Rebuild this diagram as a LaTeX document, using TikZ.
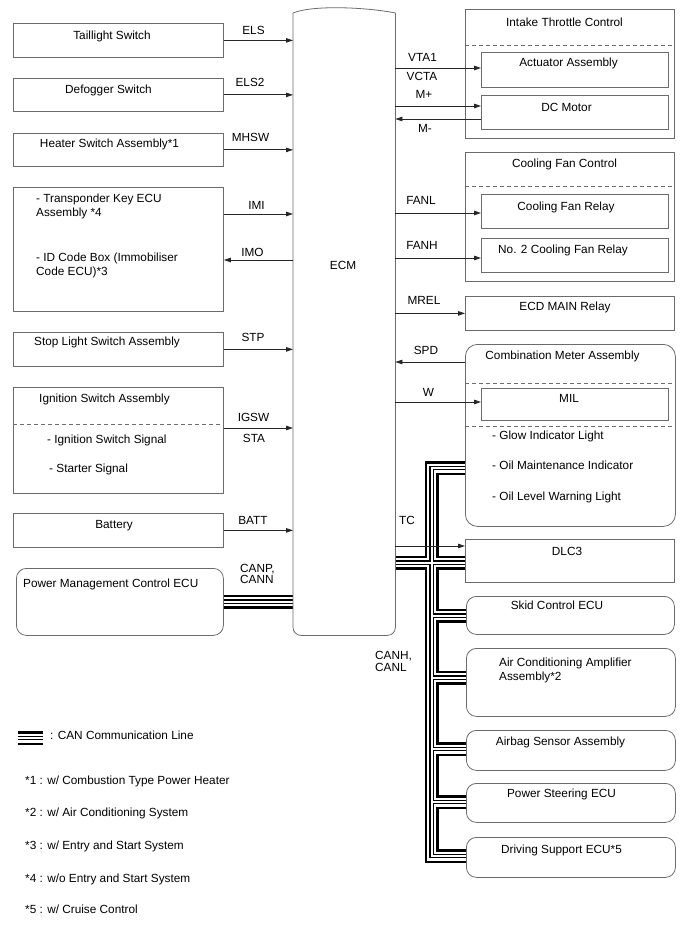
\documentclass[tikz,border=0pt]{standalone}
\usepackage{fontspec}
\setmainfont{Liberation Sans}
\usetikzlibrary{arrows.meta,backgrounds}
\definecolor{boxgray}{gray}{0.42}
\tikzset{
  box/.style={draw=boxgray,line width=0.8pt,anchor=north west,inner sep=0pt},
  rbox/.style={box,rounded corners=10pt},
  lbl/.style={inner sep=0pt,text height=8.45pt,text depth=0pt},
  mlbl/.style={inner sep=0pt,anchor=north west,align=left},
  sig/.style={draw=black!85,line width=0.8pt,-{Triangle[length=7pt,width=4.5pt]}},
  sepline/.style={draw=boxgray,line width=0.8pt,dash pattern=on 4pt off 3pt},
  canbus/.style={draw=white,line width=2pt,
    preaction={draw=black,line width=14pt},
    preaction={draw=white,line width=9pt},
    preaction={draw=black,line width=4.5pt}}
}
\begin{document}
\begin{tikzpicture}[x=1pt,y=-1pt,font=\fontsize{11.8}{13.5}\selectfont]
\useasboundingbox(0,0)rectangle(688,949);
%ECM
\node[anchor=north west,inner sep=0pt,minimum width=102,minimum height=622](ecm)at(293,13){};
\draw[draw=boxgray,line width=0.8pt,rounded corners=8pt](ecm.north west)--(ecm.south west)--(ecm.south east)--(ecm.north east);
\draw[draw=boxgray,line width=0.8pt](ecm.north west)..controls(312,5)and(365,7)..(ecm.north east);
\node[lbl](ecmtxt)at(343,265){ECM};
%taillight switch
\node[box,minimum width=210,minimum height=34](tail)at(13,23){};
\node[lbl](tailtxt)at(112,35){Taillight Switch};
\draw[sig](tail.east)--(ecm.west|-tail.east);
\node[lbl](els)at(253.5,30){ELS};
%defogger switch
\node[box,minimum width=210,minimum height=33](defog)at(13,78){};
\node[lbl](defogtxt)at(108.5,89){Defogger Switch};
\draw[sig](defog.east)--(ecm.west|-defog.east);
\node[lbl](els2)at(250,82){ELS2};
%heater switch
\node[box,minimum width=210,minimum height=33](heater)at(13,133){};
\node[lbl](heatertxt)at(109.5,143){Heater Switch Assembly*1};
\draw[sig](heater.east)--(ecm.west|-heater.east);
\node[lbl](mhsw)at(250.5,137){MHSW};
%transponder / id code box
\node[box,minimum width=210,minimum height=124](trans)at(13,187){};
\node[mlbl](transtxt)at(36,194){- Transponder Key ECU\\Assembly *4};
\node[mlbl](idtxt)at(36,252.8){- ID Code Box (Immobiliser\\Code ECU)*3};
\draw[sig](trans.east|-0,214)--(ecm.west|-0,214);
\draw[sig](ecm.west|-0,260)--(trans.east|-0,260);
\node[lbl](imi)at(256.5,205){IMI};
\node[lbl](imo)at(252.5,252){IMO};
%stop light switch
\node[box,minimum width=210,minimum height=34](stop)at(13,332){};
\node[lbl](stoptxt)at(107,341){Stop Light Switch Assembly};
\draw[sig](stop.east)--(ecm.west|-stop.east);
\node[lbl](stp)at(253,337){STP};
%ignition switch
\node[box,minimum width=210,minimum height=106](ign)at(13,387){};
\node[lbl](igntxt)at(104.5,398){Ignition Switch Assembly};
\draw[sepline](ign.west|-0,424)--(ign.east|-0,424);
\node[lbl,anchor=west](igsig)at(47,439){- Ignition Switch Signal};
\node[lbl,anchor=west](stsig)at(49,468){- Starter Signal};
\draw[sig](ign.east|-0,428)--(ecm.west|-0,428);
\node[lbl](igsw)at(253.5,417){IGSW};
\node[lbl](sta)at(254,438){STA};
%battery
\node[box,minimum width=210,minimum height=34](batt)at(13,513){};
\node[lbl](batttxt)at(114,524){Battery};
\draw[sig](batt.east)--(ecm.west|-batt.east);
\node[lbl](battsig)at(253,520){BATT};
%power management
\node[rbox,minimum width=207,minimum height=67](pwr)at(16,568){};
\node[lbl,anchor=west](pwrtxt)at(23,583){Power Management Control ECU};
\node[mlbl,font=\fontsize{11.8}{11}\selectfont](canp)at(240,564){CANP,\\CANN};
%intake throttle control
\node[box,minimum width=209,minimum height=129](itc)at(465,9){};
\node[lbl](itctxt)at(564.5,22){Intake Throttle Control};
\draw[sepline](itc.west|-0,45)--(itc.east|-0,45);
\node[box,minimum width=187,minimum height=35](act)at(481,52){};
\node[lbl](acttxt)at(568.5,62){Actuator Assembly};
\node[box,minimum width=187,minimum height=34](dcm)at(481,95){};
\node[lbl](dcmtxt)at(566.5,107){DC Motor};
\draw[sig](ecm.east|-0,68)--(act.west|-0,68);
\draw[sig](ecm.east|-0,106)--(dcm.west|-0,106);
\draw[sig](dcm.west|-0,119)--(ecm.east|-0,119);
\node[lbl](vta)at(422.5,57){VTA1};
\node[lbl](vcta)at(422,76){VCTA};
\node[lbl](mp)at(424,94){M+};
\node[lbl](mm)at(425,128){M-};
%cooling fan control
\node[box,minimum width=209,minimum height=129](cfc)at(465,152){};
\node[lbl](cfctxt)at(564.5,163){Cooling Fan Control};
\draw[sepline](cfc.west|-0,186)--(cfc.east|-0,186);
\node[box,minimum width=187,minimum height=34](cfr)at(481,194){};
\node[lbl](cfrtxt)at(566,206){Cooling Fan Relay};
\node[box,minimum width=187,minimum height=34](cfrb)at(481,238){};
\node[lbl](cfrbtxt)at(563,249){No. 2 Cooling Fan Relay};
\draw[sig](ecm.east|-0,213)--(cfr.west|-0,213);
\draw[sig](ecm.east|-0,258)--(cfrb.west|-0,258);
\node[lbl](fanl)at(421,200){FANL};
\node[lbl](fanh)at(422,245){FANH};
%ecd main relay
\node[box,minimum width=209,minimum height=34](ecd)at(465,296){};
\node[lbl](ecdtxt)at(565,306){ECD MAIN Relay};
\draw[sig](ecm.east|-ecd.west)--(ecd.west);
\node[lbl](mrel)at(424,300){MREL};
%combination meter
\node[box,rounded corners=12pt,minimum width=210,minimum height=182](meter)at(465,344){};
\node[lbl](metertxt)at(562.5,355){Combination Meter Assembly};
\draw[sepline](meter.west|-0,383)--(meter.east|-0,383);
\draw[sepline](meter.west|-0,426)--(meter.east|-0,426);
\node[box,minimum width=187,minimum height=32](mil)at(481,388){};
\node[lbl](miltxt)at(569,398){MIL};
\node[lbl,anchor=west](glow)at(492,435){- Glow Indicator Light};
\node[lbl,anchor=west](oilm)at(492,465){- Oil Maintenance Indicator};
\node[lbl,anchor=west](oill)at(492,496){- Oil Level Warning Light};
\draw[sig](meter.west|-0,362)--(ecm.east|-0,362);
\draw[sig](ecm.east|-0,402)--(mil.west|-0,402);
\node[lbl](spd)at(426,350){SPD};
\node[lbl](w)at(428.5,392){W};
%dlc3
\node[box,minimum width=209,minimum height=43](dlc)at(465,539){};
\node[lbl](dlctxt)at(567,551){DLC3};
\node[lbl](tc)at(407,520){TC};
%can nodes
\node[rbox,minimum width=208,minimum height=38](skid)at(466,596){};
\node[lbl](skidtxt)at(557,605){Skid Control ECU};
\node[rbox,minimum width=209,minimum height=68](aircon)at(466,648){};
\node[mlbl](aircontxt)at(499,657.8){Air Conditioning Amplifier\\Assembly*2};
\node[rbox,minimum width=209,minimum height=40](airbag)at(466,730){};
\node[lbl](airbagtxt)at(560.5,741){Airbag Sensor Assembly};
\node[rbox,minimum width=209,minimum height=39](ps)at(466,783){};
\node[lbl](pstxt)at(561.5,793){Power Steering ECU};
\node[rbox,minimum width=209,minimum height=40](dse)at(466,837){};
\node[lbl](dsetxt)at(561.5,849){Driving Support ECU*5};
\node[mlbl,font=\fontsize{11.8}{11.7}\selectfont](canh)at(375,651){CANH,\\CANL};
%can bus
\coordinate(trk)at(431.5,0);
\begin{scope}[on background layer]
\draw[canbus](meter.west|-0,468)--(trk|-0,468)--(trk|-0,856)--(dse.west|-0,856)
  (ecm.east|-0,562.5)--(dlc.west|-0,562.5)
  (trk|-0,615.5)--(skid.west|-0,615.5)
  (trk|-0,677.5)--(aircon.west|-0,677.5)
  (trk|-0,749)--(airbag.west|-0,749)
  (trk|-0,802)--(ps.west|-0,802);
\draw[canbus](pwr.east|-0,601.5)--(ecm.west|-0,601.5);
\end{scope}
\draw[sig](ecm.east|-0,546)--(dlc.west|-0,546);
%legend
\coordinate(lga)at(18,738);
\coordinate(lgb)at(43,738);
\draw[canbus](lga)--(lgb);
\node[lbl,anchor=west](lgtxt)at(50,735){: CAN Communication Line};
\foreach \ftext/\y[count=\i]in{{*1 : w/ Combustion Type Power Heater}/780,{*2 : w/ Air Conditioning System}/812,{*3 : w/ Entry and Start System}/845,{*4 : w/o Entry and Start System}/878,{*5 : w/ Cruise Control}/909}
  \node[lbl,anchor=west](note\i)at(25,\y){\ftext};
\end{tikzpicture}
\end{document}
